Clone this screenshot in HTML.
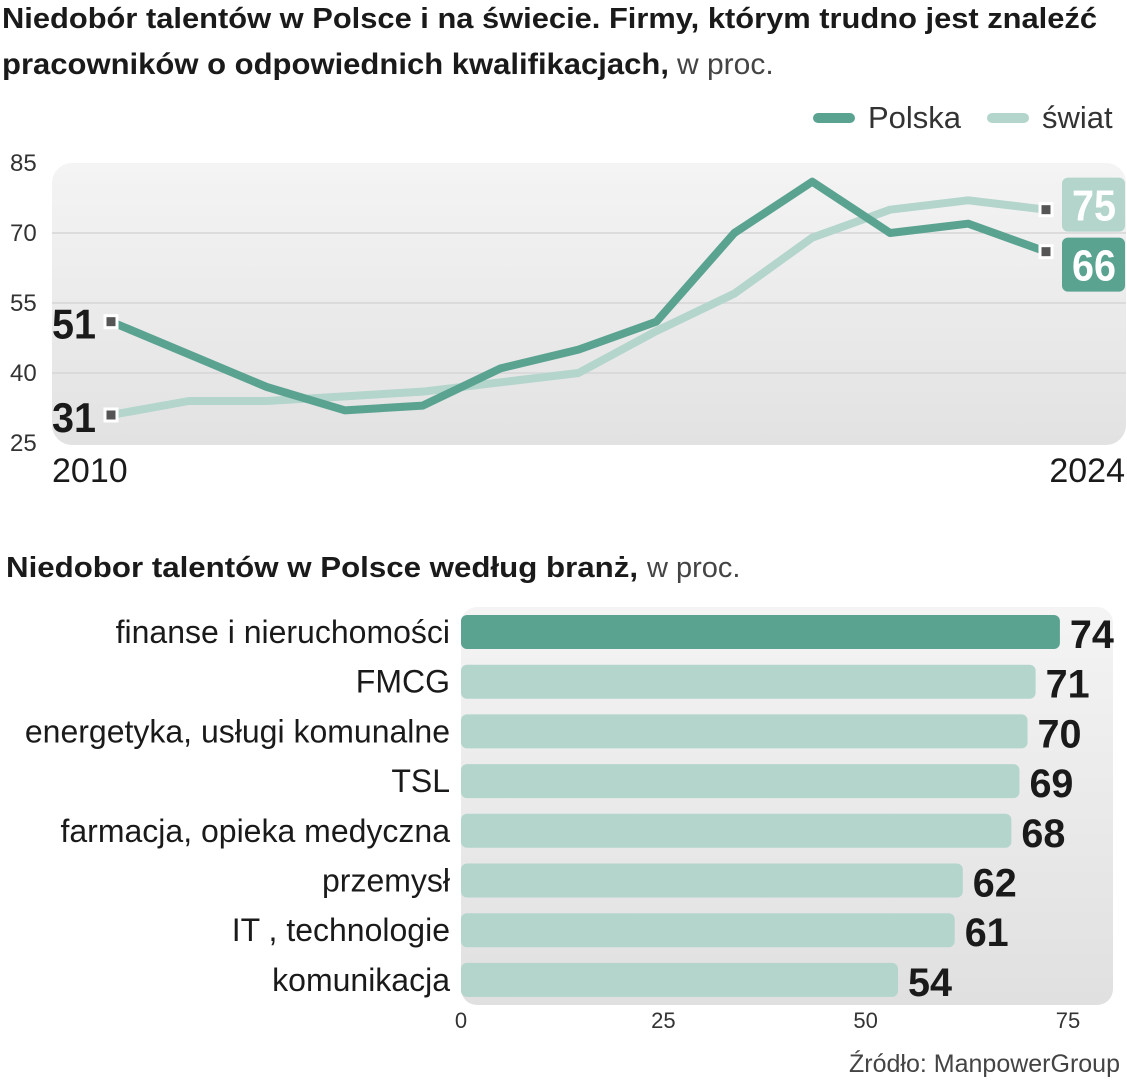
<!DOCTYPE html>
<html><head><meta charset="utf-8"><style>
body{margin:0;background:#fff;width:1127px;height:1080px;overflow:hidden;font-family:"Liberation Sans",sans-serif}
</style></head><body>
<svg width="1127" height="1080" xmlns="http://www.w3.org/2000/svg" font-family="Liberation Sans, sans-serif">
<defs>
<linearGradient id="g1" x1="0" y1="0" x2="0" y2="1"><stop offset="0" stop-color="#f4f4f4"/><stop offset="1" stop-color="#e2e2e2"/></linearGradient>
<linearGradient id="g2" x1="0" y1="0" x2="0" y2="1"><stop offset="0" stop-color="#f4f4f4"/><stop offset="1" stop-color="#e0e0e0"/></linearGradient>
</defs>
<text x="2" y="28" font-size="29" font-weight="bold" fill="#1a1a1a" textLength="1095" lengthAdjust="spacingAndGlyphs">Niedobór talentów w Polsce i na świecie. Firmy, którym trudno jest znaleźć</text>
<text x="2" y="74" font-size="30" font-weight="bold" fill="#1a1a1a" textLength="667" lengthAdjust="spacingAndGlyphs">pracowników o odpowiednich kwalifikacjach,</text>
<text x="677" y="74" font-size="30" fill="#444">w proc.</text>
<g>
<line x1="818" y1="118" x2="850" y2="118" stroke="#5ba391" stroke-width="10" stroke-linecap="round"/>
<text x="868" y="128" font-size="31" fill="#333">Polska</text>
<line x1="992" y1="118" x2="1024" y2="118" stroke="#b3d5cc" stroke-width="10" stroke-linecap="round"/>
<text x="1042" y="128" font-size="31" fill="#333">świat</text>
</g>
<rect x="52" y="163" width="1074" height="282" rx="20" fill="url(#g1)"/>
<g id="lineaxis"></g>
<g id="lines"></g>
<text x="52" y="482" font-size="34" fill="#1a1a1a">2010</text>
<text x="1125" y="482" font-size="34" fill="#1a1a1a" text-anchor="end">2024</text>
<text x="6" y="577" font-size="29" font-weight="bold" fill="#1a1a1a" textLength="632" lengthAdjust="spacingAndGlyphs">Niedobor talentów w Polsce  według branż,</text>
<text x="647" y="577" font-size="29" fill="#444">w proc.</text>
<rect x="461" y="607" width="652" height="398" rx="16" fill="url(#g2)"/>
<g id="bars"></g>
<text x="1120" y="1072" font-size="25" fill="#444" text-anchor="end">Źródło: ManpowerGroup</text>
</svg>
<script>
const lineYears=[2010,2011,2012,2013,2014,2015,2016,2017,2018,2019,2021,2022,2024];
const polskaValues=[51,44,37,32,33,41,45,51,70,81,70,72,66];
const swiatValues=[31,34,34,35,36,38,40,49,57,69,75,77,75];
const yTicks=[25,40,55,70,85];
const barCategories=["finanse i nieruchomości","FMCG","energetyka, usługi komunalne","TSL","farmacja, opieka medyczna","przemysł","IT , technologie","komunikacja"];
const barValues=[74,71,70,69,68,62,61,54];
const xTicks=[0,25,50,75];

const NS="http://www.w3.org/2000/svg";
function mk(tag,attrs,parent,text){const e=document.createElementNS(NS,tag);for(const k in attrs)e.setAttribute(k,attrs[k]);if(text!==undefined)e.textContent=text;parent.appendChild(e);return e;}
const ly=v=>443-(v-25)*(280/60);
const lx=i=>111+i*(1046-111)/(lineYears.length-1);
const ax=document.getElementById('lineaxis');
yTicks.forEach(t=>{
  if(t>25&&t<85){const g=mk('line',{x1:52,x2:1126,y1:ly(t),y2:ly(t),stroke:'#d6d6d6','stroke-width':1.5},ax);
  
  }
  const tx=mk('text',{x:10,y:ly(t)+8,'font-size':24,fill:'#333'},ax,String(t));
  
  
});
const lg=document.getElementById('lines');
function series(vals,color,name){
  const p=mk('polyline',{points:vals.map((v,i)=>lx(i)+','+ly(v)).join(' '),fill:'none',stroke:color,'stroke-width':8,'stroke-linejoin':'round'},lg);
  
  
}
series(swiatValues,'#b3d5cc','swiat');
series(polskaValues,'#5ba391','polska');
[[swiatValues,'swiat'],[polskaValues,'polska']].forEach(([vals,n])=>{
  [0,vals.length-1].forEach(i=>{
    const r=mk('rect',{x:lx(i)-6,y:ly(vals[i])-6,width:12,height:12,fill:'#555',stroke:'#fff','stroke-width':3},lg);
    
    
  });
});
let t=mk('text',{x:96,y:ly(polskaValues[0])+17,'font-size':42,'font-weight':'bold',fill:'#1a1a1a','text-anchor':'end',textLength:44,lengthAdjust:'spacingAndGlyphs'},lg,String(polskaValues[0]));


t=mk('text',{x:96,y:ly(swiatValues[0])+17,'font-size':42,'font-weight':'bold',fill:'#1a1a1a','text-anchor':'end',textLength:44,lengthAdjust:'spacingAndGlyphs'},lg,String(swiatValues[0]));


function endBadge(v,bg,n,yc){
  const r=mk('rect',{x:1062,y:yc-27,width:63,height:54,rx:6,fill:bg},lg);
  
  
  const tt=mk('text',{x:1094,y:yc+16,'font-size':44,'font-weight':'bold',fill:'#fff','text-anchor':'middle',textLength:44,lengthAdjust:'spacingAndGlyphs'},lg,String(v));
  
  
}
const sEnd=swiatValues[swiatValues.length-1], pEnd=polskaValues[polskaValues.length-1];
let ys=ly(sEnd)-5, yp=ly(pEnd)+13;
if(yp-ys<58){const m=(ys+yp)/2;ys=m-29;yp=m+29;}
endBadge(sEnd,'#b3d5cc','swiat',ys);
endBadge(pEnd,'#5ba391','polska',yp);

const bx=v=>461+v*(1068-461)/75;
const bg=document.getElementById('bars');
barCategories.forEach((c,i)=>{
  const cy=632+i*49.7;
  const r=mk('rect',{x:461,y:cy-17,width:bx(barValues[i])-461,height:34,rx:6,fill:i===0?'#5ba391':'#b3d5cc'},bg);
  
  
  const l=mk('text',{x:450,y:cy+11,'font-size':32,fill:'#1a1a1a','text-anchor':'end'},bg,c);
  
  
  const v=mk('text',{x:bx(barValues[i])+10,y:cy+16,'font-size':40,'font-weight':'bold',fill:'#1a1a1a',textLength:44,lengthAdjust:'spacingAndGlyphs'},bg,String(barValues[i]));
  
  
});
xTicks.forEach(tk=>{
  const e=mk('text',{x:bx(tk),y:1028,'font-size':22,fill:'#333','text-anchor':'middle'},bg,String(tk));
  
  
});
</script>
</body></html>
